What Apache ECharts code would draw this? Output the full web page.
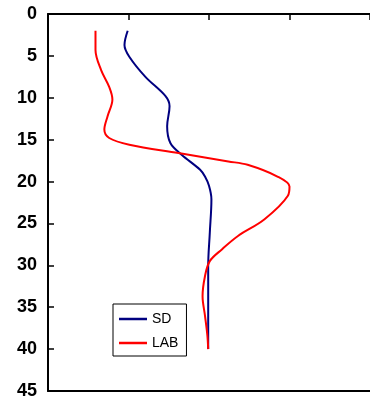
<!DOCTYPE html>
<html>
<head>
<meta charset="utf-8">
<script src="https://cdn.jsdelivr.net/npm/echarts@6/dist/echarts.min.js"></script>
<style>
  html, body { margin: 0; padding: 0; background: #fff; }
  #chart { width: 370px; height: 400px; }
</style>
</head>
<body>
<div id="chart"></div>
<script>
// depth (y, increasing downward) and value (x) for each profile
var sdDepth = [2, 3.7, 5.1, 7.5, 9.8, 11, 13.4, 15.4, 16.8, 18.6, 19.4, 20.5, 22.1, 26.1, 30.1, 35, 40];
var sdValue = [0.99, 0.95, 1.01, 1.21, 1.46, 1.51, 1.48, 1.52, 1.66, 1.89, 1.95, 2.0, 2.03, 2.01, 1.99, 1.99, 1.99];

var labDepth = [2, 4.3, 6.7, 8.7, 10.2, 12.2, 13.8, 14.8, 15.6, 16.6, 17.6, 18, 19.4, 20.6, 21.7, 24.5, 26.5, 28.1, 29.5, 31.3, 33.7, 36, 38.4, 40];
var labValue = [0.59, 0.59, 0.66, 0.76, 0.80, 0.74, 0.70, 0.76, 1.01, 1.62, 2.24, 2.48, 2.85, 3.0, 2.98, 2.69, 2.36, 2.16, 2.01, 1.95, 1.92, 1.95, 1.98, 1.99];

var seriesNames = ['SD', 'LAB'];
var seriesColors = ['#000080', '#ff0000'];

function pairs(xs, ys) {
  var out = [];
  for (var i = 0; i < xs.length; i++) out.push([xs[i], ys[i]]);
  return out;
}

var chart = echarts.init(document.getElementById('chart'));

var option = {
  animation: false,
  backgroundColor: '#fff',
  grid: { left: 48, right: -3, top: 14, bottom: 6 },
  legend: {
    orient: 'vertical',
    left: 113,
    top: 304,
    width: 72,
    padding: [8, 8, 6, 6],
    itemGap: 10,
    itemWidth: 28,
    itemHeight: 2.5,
    icon: 'rect',
    borderColor: '#000',
    borderWidth: 1,
    borderRadius: 0,
    backgroundColor: '#fff',
    textStyle: { fontFamily: 'Liberation Sans', fontSize: 14, color: '#000', padding: [0, 0, 0, 0] },
    data: seriesNames
  },
  xAxis: [
    {
      type: 'value',
      position: 'top',
      min: 0,
      max: 4,
      interval: 1,
      axisLine: { show: true, lineStyle: { color: '#000', width: 2 } },
      axisTick: { show: true, inside: true, length: 6, lineStyle: { color: '#000', width: 1.5 } },
      axisLabel: { show: false },
      splitLine: { show: false }
    },
    {
      type: 'value',
      position: 'bottom',
      min: 0,
      max: 4,
      axisLine: { show: true, lineStyle: { color: '#000', width: 2 } },
      axisTick: { show: false },
      axisLabel: { show: false },
      splitLine: { show: false }
    }
  ],
  yAxis: {
    type: 'value',
    inverse: true,
    min: 0,
    max: 45,
    interval: 5,
    axisLine: { show: true, lineStyle: { color: '#000', width: 2 } },
    axisTick: { show: true, inside: true, length: 6, lineStyle: { color: '#000', width: 1.5 } },
    axisLabel: {
      margin: 11,
      fontFamily: 'Liberation Sans',
      fontWeight: 'bold',
      fontSize: 18,
      color: '#000'
    },
    splitLine: { show: false }
  },
  series: [
    {
      name: seriesNames[0],
      type: 'line',
      xAxisIndex: 0,
      symbol: 'none',
      smooth: 0.35,
      lineStyle: { color: seriesColors[0], width: 2 },
      itemStyle: { color: seriesColors[0] },
      data: pairs(sdValue, sdDepth)
    },
    {
      name: seriesNames[1],
      type: 'line',
      xAxisIndex: 0,
      symbol: 'none',
      smooth: 0.35,
      lineStyle: { color: seriesColors[1], width: 2 },
      itemStyle: { color: seriesColors[1] },
      data: pairs(labValue, labDepth)
    }
  ]
};

chart.setOption(option);
</script>
</body>
</html>
